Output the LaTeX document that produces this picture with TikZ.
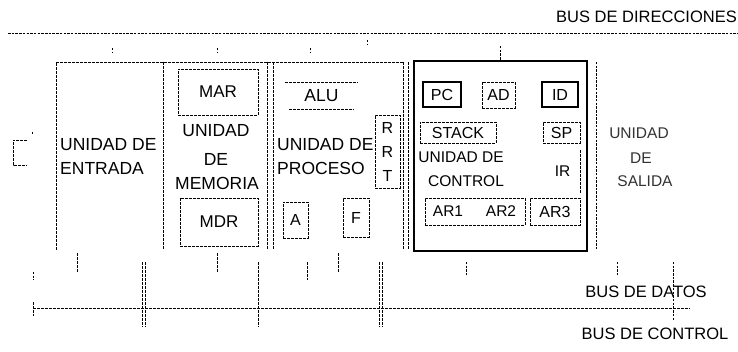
\documentclass[tikz,border=0pt]{standalone}
\usepackage{fontspec}
\setmainfont{Liberation Sans}
\begin{document}
\begin{tikzpicture}[x=1pt,y=-1pt,
  dl/.style={line width=0.85pt, dash pattern=on 3pt off 1pt},
  fl/.style={line width=0.7pt, dash pattern=on 2.5pt off 1.2pt},
  reg/.style={draw, dl, inner sep=0pt, font=\fontsize{16}{18}\selectfont},
  thk/.style={draw, line width=1.8pt, inner sep=0pt, font=\fontsize{16}{18}\selectfont},
  txt/.style={inner sep=0pt, font=\fontsize{15.5}{18}\selectfont},
  lbl/.style={inner sep=0pt, font=\fontsize{17.5}{19}\selectfont},
  sal/.style={inner sep=0pt, text=black!80, font=\fontsize{15.5}{18}\selectfont},
  bus/.style={inner sep=0pt, font=\fontsize{16.5}{18}\selectfont}]
\useasboundingbox[fill=white] (0,0) rectangle (738,352);

% bus labels
\node[bus, anchor=east] (bdir) at (737,17) {BUS DE DIRECCIONES};
\node[bus] (bdat) at (646,292) {BUS DE DATOS};
\node[bus] (bctl) at (655,334) {BUS DE CONTROL};

% address bus
\coordinate (ab0) at (8,33);
\coordinate (ab1) at (738,33);
\draw[fl] (ab0) -- (ab1);
\draw[fl] (112,48) -- (112,52);
\draw[fl] (217,48) -- (217,52);
\draw[fl] (310,48) -- (310,52);
\draw[fl] (367,40) -- (367,44);
\draw[fl] (500,46) -- (500,61);

% unit frames
\draw[dl] (56,250) -- (56,62) -- (403,62);
\draw[dl] (163,62) -- (163,250);
\draw[dl] (267,62) -- (267,250);
\draw[dl] (273,62) -- (273,250);
\draw[dl] (403,62) -- (403,250);
\draw[dl] (408,62) -- (408,250);
\node[draw, line width=2.2pt, minimum width=173, minimum height=190, inner sep=0pt] (ctl) at (500.5,156) {};
\draw[fl] (596,62) -- (596,250);

% left bracket
\draw[dl] (27,140) -- (13,140) -- (13,165) -- (27,165);
\draw[fl] (32,132) -- (32,135);

% entrada
\node[lbl, anchor=west] (e1) at (60,145) {UNIDAD DE};
\node[lbl, anchor=west] (e2) at (60,168) {ENTRADA};

% memoria
\node[reg, font=\fontsize{17}{19}\selectfont, minimum width=80, minimum height=46] (mar) at (218,92) {MAR};
\node[lbl] (m1) at (216,131) {UNIDAD};
\node[lbl] (m2) at (216,159) {DE};
\node[lbl] (m3) at (217,183) {MEMORIA};
\node[reg, font=\fontsize{17}{19}\selectfont, minimum width=78, minimum height=48] (mdr) at (219,222) {MDR};

% proceso
\node[lbl, minimum width=73, minimum height=26] (alu) at (321.5,96) {ALU};
\draw[dl] (alu.north west) -- (alu.north east);
\draw[dl] ([xshift=4pt]alu.south west) -- ([xshift=-4pt]alu.south east);
\node[lbl, anchor=west] (p1) at (277,145) {UNIDAD DE};
\node[lbl, anchor=west] (p2) at (277,168) {PROCESO};
\node[reg, minimum width=25, minimum height=36] (a) at (295.5,220) {A};
\node[reg, minimum width=26, minimum height=39] (f) at (356,218) {F};
\node[reg, align=center, font=\fontsize{16}{24}\selectfont, minimum width=25, minimum height=73] (rrt) at (387.5,151.5) {R\\R\\T};

% control
\node[thk, minimum width=38, minimum height=25] (pc) at (442,94.5) {PC};
\node[reg, minimum width=33, minimum height=26] (ad) at (498.5,95) {AD};
\node[thk, minimum width=36, minimum height=25] (id) at (560,94.5) {ID};
\node[reg, minimum width=76, minimum height=21] (stack) at (458,132.5) {STACK};
\node[reg, minimum width=37, minimum height=21] (sp) at (561.5,132.5) {SP};
\node[txt] (c1) at (461,157) {UNIDAD DE};
\node[txt] (c2) at (466,181) {CONTROL};
\node[txt, minimum width=35, minimum height=43] (ir) at (562.5,171.5) {IR};
\draw[dl] (ir.north east) -- (ir.south east);
\node[draw, dl, minimum width=100, minimum height=27, inner sep=0pt] (ar12) at (475,211.5) {};
\node[txt] (ar1) at (448,211) {AR1};
\node[txt] (ar2) at (501,211) {AR2};
\node[reg, minimum width=50, minimum height=27] (ar3) at (555,211.5) {AR3};

% salida
\node[sal] (s1) at (639,133) {UNIDAD};
\node[sal] (s2) at (641,158) {DE};
\node[sal] (s3) at (645,181) {SALIDA};

% data bus and drops
\coordinate (db0) at (33,308);
\coordinate (db1) at (690,308);
\draw[dl] (db0) -- (db1);
\draw[dl] (33,302) -- (33,316);
\draw[fl] (33,272) -- (33,280);
\draw[dl] (77,253) -- (77,272);
\draw[dl] (142,262) -- (142,327);
\draw[dl] (145,262) -- (145,327);
\draw[dl] (217,253) -- (217,272);
\draw[dl] (258,262) -- (258,327);
\draw[dl] (307,262) -- (307,280);
\draw[dl] (338,253) -- (338,272);
\draw[dl] (379,262) -- (379,327);
\draw[dl] (382,262) -- (382,327);
\draw[fl] (466,262) -- (466,275);
\draw[fl] (617,262) -- (617,275);
\draw[fl] (673,262) -- (673,320);
\end{tikzpicture}
\end{document}
